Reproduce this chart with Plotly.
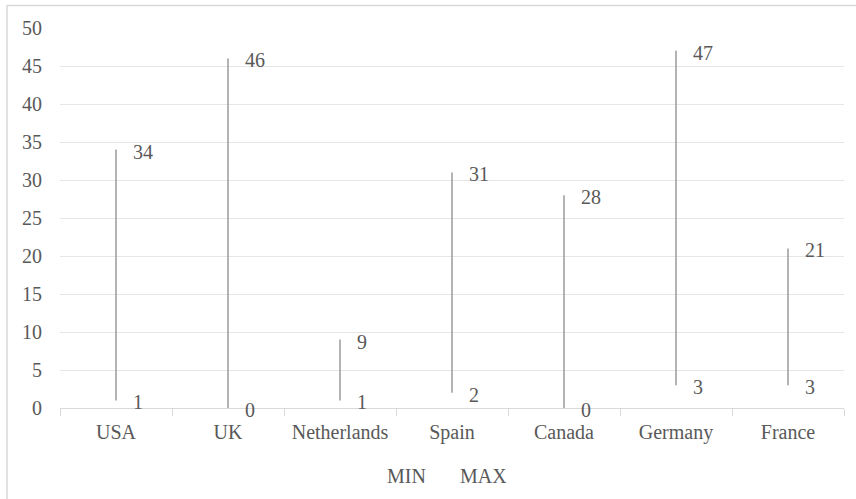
import plotly.graph_objects as go

# Per-country range data
countries = ["USA", "UK", "Netherlands", "Spain", "Canada", "Germany", "France"]
min_vals = [1, 0, 1, 2, 0, 3, 3]
max_vals = [34, 46, 9, 31, 28, 47, 21]
y_ticks = [0, 5, 10, 15, 20, 25, 30, 35, 40, 45, 50]

FONT = "Liberation Serif"
FS = 20
TEXT = "#595959"
LINE = "#a0a0a0"

W, H = 856, 499
ML, MR, MT, MB = 60, 12, 28, 91
PW = W - ML - MR
PH = H - MT - MB


def px_to_paper_x(px):
    return (px - ML) / PW


def px_to_paper_y(py):
    return (H - MB - py) / PH


# High-low lines: one segment per country, separated by gaps
hx, hy = [], []
for c, lo, hi in zip(countries, min_vals, max_vals):
    hx += [c, c, None]
    hy += [lo, hi, None]

fig = go.Figure()
fig.add_trace(go.Scatter(
    x=hx, y=hy, mode="lines",
    line=dict(color=LINE, width=1.6),
    hoverinfo="skip", showlegend=False,
))
fig.add_trace(go.Scatter(
    x=countries, y=min_vals, mode="markers", name="MIN",
    marker=dict(size=1, opacity=0), showlegend=False,
))
fig.add_trace(go.Scatter(
    x=countries, y=max_vals, mode="markers", name="MAX",
    marker=dict(size=1, opacity=0), showlegend=False,
))

annotations = []
for series in (min_vals, max_vals):
    for c, v in zip(countries, series):
        annotations.append(dict(
            x=c, y=v, xref="x", yref="y", text=str(v),
            showarrow=False, xanchor="left", yanchor="middle",
            xshift=15, yshift=-2,
            font=dict(family=FONT, size=FS, color=TEXT),
        ))

# Legend entries as plain text
for label, px in (("MIN", 406), ("MAX", 483)):
    annotations.append(dict(
        x=px_to_paper_x(px), y=px_to_paper_y(476), xref="paper", yref="paper",
        text=label, showarrow=False, xanchor="center", yanchor="middle",
        font=dict(family=FONT, size=FS, color=TEXT),
    ))

fig.update_layout(
    width=W, height=H,
    margin=dict(l=ML, r=MR, t=MT, b=MB),
    paper_bgcolor="white", plot_bgcolor="white",
    font=dict(family=FONT, size=FS, color=TEXT),
    annotations=annotations,
    shapes=[dict(
        type="rect", xref="paper", yref="paper",
        x0=px_to_paper_x(7), x1=px_to_paper_x(870),
        y0=px_to_paper_y(520), y1=px_to_paper_y(5.5),
        line=dict(color="#d9d9d9", width=1.5), fillcolor="rgba(0,0,0,0)",
        layer="below",
    )],
)
fig.update_xaxes(
    type="category", categoryorder="array", categoryarray=countries,
    range=[-0.5, len(countries) - 0.5],
    showgrid=False, showline=True, linecolor="#d9d9d9", linewidth=1.2,
    ticks="outside", tickson="boundaries", ticklen=7, tickcolor="#d9d9d9",
    ticklabelstandoff=6,
    tickfont=dict(family=FONT, size=FS, color=TEXT),
    zeroline=False,
)
fig.update_yaxes(
    range=[0, 50], tickvals=y_ticks,
    showgrid=True, gridcolor="#e6e6e6", gridwidth=1,
    zeroline=False, showline=False, ticks="",
    ticklabelstandoff=17,
    tickfont=dict(family=FONT, size=FS, color=TEXT),
)

fig.write_html("out.html")
